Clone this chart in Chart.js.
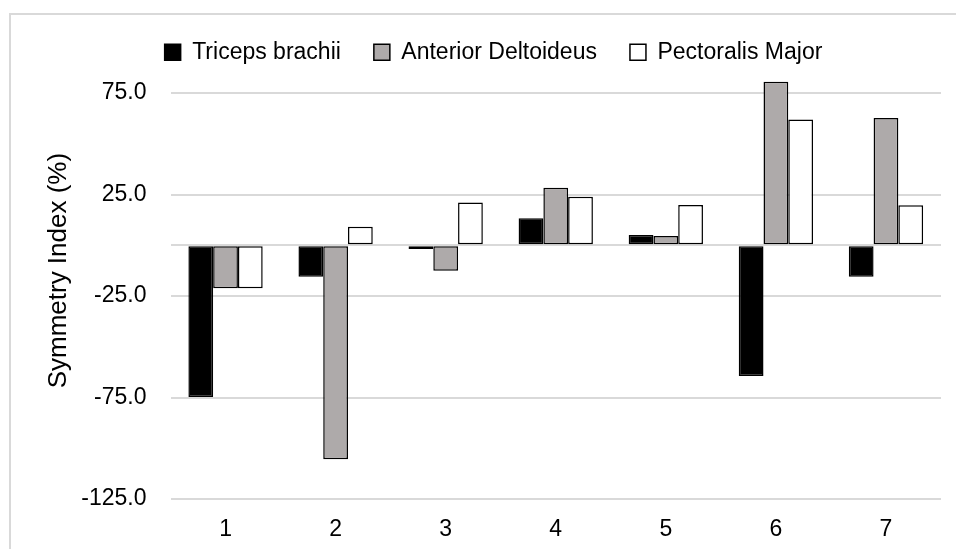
<!DOCTYPE html>
<html>
<head>
<meta charset="utf-8">
<script src="https://cdn.jsdelivr.net/npm/chart.js@4"></script>
<style>
html,body{margin:0;padding:0;background:#fff;}
#wrap{position:relative;width:956px;height:549px;}
</style>
</head>
<body>
<div id="wrap"><canvas id="c" width="956" height="549"></canvas></div>
<script>
const categories = ['1', '2', '3', '4', '5', '6', '7'];
const tricepsBrachii = [-74.8, -15.5, -1.8, 13.3, 5.0, -64.4, -15.5];
const anteriorDeltoideus = [-21.2, -105.4, -12.5, 28.3, 4.6, 80.6, 62.7];
const pectoralisMajor = [-21.2, 9.1, 21.0, 23.9, 19.8, 62.0, 19.7];
const yTickValues = [-125, -75, -25, 0, 25, 75];
const yMin = -125;
const yMax = 100;

const FONT = "'Liberation Sans', Arial, sans-serif";

const frameAndLegend = {
  id: 'frameAndLegend',
  beforeLayout(chart) {
    const lg = chart.legend;
    if (lg && !lg._patched) {
      const f = lg.fit.bind(lg);
      lg.fit = function () { f(); this.height = 34.45; };
      lg._patched = true;
    }
  },
  afterLayout(chart) {
    const lg = chart.legend;
    if (lg) {
      lg.left += 23; lg.right += 23;
      lg.bottom = lg.top + 80; lg.height = 80;
    }
  },
  beforeDraw(chart) {
    const ctx = chart.ctx;
    ctx.save();
    ctx.strokeStyle = '#d9d9d9';
    ctx.lineWidth = 2;
    ctx.strokeRect(10, 14, 1000, 1000);
    ctx.restore();
  }
};

new Chart(document.getElementById('c'), {
  type: 'bar',
  data: {
    labels: categories,
    datasets: [
      { label: 'Triceps brachii', data: tricepsBrachii, backgroundColor: '#000000', borderColor: '#000000', borderWidth: 1.5, borderSkipped: false },
      { label: 'Anterior Deltoideus', data: anteriorDeltoideus, backgroundColor: '#aeaaaa', borderColor: '#000000', borderWidth: 1.5, borderSkipped: false },
      { label: 'Pectoralis Major', data: pectoralisMajor, backgroundColor: '#ffffff', borderColor: '#000000', borderWidth: 1.5, borderSkipped: false }
    ]
  },
  options: {
    responsive: false,
    animation: false,
    devicePixelRatio: 1,
    layout: { padding: { top: 7.8, left: 0, right: 15, bottom: 5.9 } },
    datasets: { bar: { categoryPercentage: 0.675, barPercentage: 1.0 } },
    plugins: {
      legend: {
        position: 'top',
        align: 'center',
        labels: {
          boxWidth: 16,
          boxHeight: 16,
          padding: 33,
          color: '#000000',
          font: { family: FONT, size: 23 }
        }
      },
      tooltip: { enabled: false },
      title: { display: false }
    },
    scales: {
      x: {
        afterFit(scale) { scale.height = 44.1; },
        grid: { display: false, drawTicks: false },
        border: { display: false },
        ticks: { color: '#000000', padding: 16.5, font: { family: FONT, size: 23 } }
      },
      y: {
        min: yMin,
        max: yMax,
        afterBuildTicks(scale) { scale.ticks = yTickValues.map(v => ({ value: v })); },
        afterFit(scale) { scale.width = 170.5; },
        grid: { color: '#d9d9d9', lineWidth: 2, drawTicks: false },
        border: { display: false },
        ticks: {
          color: '#000000',
          padding: 24,
          font: { family: FONT, size: 23 },
          callback: (v) => (v === 0 ? '' : Number(v).toFixed(1))
        },
        title: {
          display: true,
          text: 'Symmetry Index (%)',
          color: '#000000',
          font: { family: FONT, size: 26 },
          padding: { top: 42.9, bottom: 0 }
        }
      }
    }
  },
  plugins: [frameAndLegend]
});
</script>
</body>
</html>
